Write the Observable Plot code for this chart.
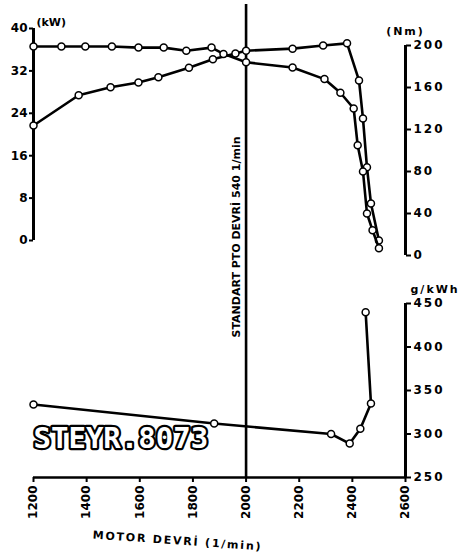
<!DOCTYPE html>
<html><head><meta charset="utf-8">
<script src="https://cdn.jsdelivr.net/npm/d3@7"></script>
<script src="https://cdn.jsdelivr.net/npm/@observablehq/plot@0.6"></script>
<style>
html,body{margin:0;padding:0;background:#fff;}
#chart{position:relative;width:459px;height:557px;overflow:hidden;background:#fff;}
#chart svg{position:absolute;left:0;top:0;}
</style></head><body><div id="chart"></div>
<script>
// ---- data ----
const rpmTicks = [1200, 1400, 1600, 1800, 2000, 2200, 2400, 2600];
const powerTicks = [0, 8, 16, 24, 32, 40];
const torqueTicks = [0, 40, 80, 120, 160, 200];
const fuelTicks = [250, 300, 350, 400, 450];

const powerRpm = [1200, 1370, 1490, 1595, 1670, 1785, 1875, 1960, 2000, 2175, 2290, 2380, 2425, 2440, 2455, 2470, 2500];
const powerKw  = [21.7, 27.4, 28.9, 29.8, 30.8, 32.6, 34.2, 35.3, 35.8, 36.2, 36.8, 37.2, 30.2, 23.0, 13.8, 7.0, 0];

const torqueRpm = [1200, 1305, 1395, 1495, 1595, 1690, 1775, 1870, 1915, 2000, 2175, 2295, 2355, 2405, 2420, 2440, 2455, 2476, 2500];
const torqueNm  = [199, 199, 199, 199, 198, 198, 195, 198, 192, 184, 179, 168, 155, 140, 105, 80, 40, 24, 7];

const fuelRpm  = [1200, 1880, 2320, 2390, 2430, 2470, 2450];
const fuelGkwh = [334, 312, 300, 289, 306, 335, 440];

const ptoRpm = 2000;
const ptoLabel = "STANDART PTO DEVRİ 540 1/min";
const modelLabel = "STEYR.8073";
const xLabel = "MOTOR DEVRİ (1/min)";
const powerUnit = "(kW)";
const torqueUnit = "(Nm)";
const fuelUnit = "g/kWh";

// ---- layout ----
const W = 459, H = 557, ML = 33, MR = 54;
const font = {fontFamily: "DejaVu Sans", fontWeight: "bold", fontSize: "12px"};
const lw = 2.6;
const dotOpt = {r: 3.5, fill: "white", stroke: "black", strokeWidth: 1.5};

const powerData = powerRpm.map((rpm, i) => ({rpm, v: powerKw[i]}));
const torqueData = torqueRpm.map((rpm, i) => ({rpm, v: torqueNm[i]}));
const fuelData = fuelRpm.map((rpm, i) => ({rpm, v: fuelGkwh[i]}));

const chart = document.getElementById("chart");

// base layer: x axis, PTO line, labels
const base = Plot.plot({
  width: W, height: H, marginLeft: ML, marginRight: MR, marginTop: 4, marginBottom: 80,
  x: {domain: [1200, 2600]},
  y: {domain: [0, 1], axis: null},
  style: {...font, background: "white", overflow: "visible"},
  marks: [
    Plot.ruleY([0], {strokeWidth: lw}),
    Plot.axisX({ticks: rpmTicks, tickFormat: "d", tickRotate: -90, tickSize: 5, tickPadding: 3, strokeWidth: 2, label: null, fontSize: 12}),
    Plot.ruleX([ptoRpm], {strokeWidth: lw}),
    Plot.text([ptoLabel], {x: () => ptoRpm, frameAnchor: "middle", rotate: -90, dx: -10, dy: -4, fontSize: 11}),
    Plot.text([modelLabel], {frameAnchor: "bottom-left", textAnchor: "start", dy: -30, fontSize: 29,
      fontFamily: "DejaVu Sans Mono", fontWeight: "bold", fill: "white", stroke: "black", strokeWidth: 4.5, paintOrder: "stroke"}),
    Plot.text([xLabel], {frameAnchor: "bottom-left", textAnchor: "start", dx: 59, dy: 61, rotate: 4, fontSize: 11})
  ]
});
d3.select(base).selectAll("text").filter(function() { return this.textContent === xLabel; }).style("letter-spacing", "1.8px");
chart.appendChild(base);

// power layer (left axis)
const power = Plot.plot({
  width: W, height: H, marginLeft: ML, marginRight: MR, marginTop: 28, marginBottom: 317,
  x: {domain: [1200, 2600], axis: null},
  y: {domain: [0, 40]},
  style: {...font, background: "none", overflow: "visible"},
  marks: [
    Plot.ruleX([1200], {strokeWidth: 3}),
    Plot.axisY({ticks: powerTicks, tickSize: 4, tickPadding: 2, strokeWidth: 2, label: null, fontSize: 12}),
    Plot.text([powerUnit], {frameAnchor: "top-left", textAnchor: "start", dx: 3, dy: -10, fontSize: 11}),
    Plot.line(powerData, {x: "rpm", y: "v", strokeWidth: lw}),
    Plot.dot(powerData, {x: "rpm", y: "v", ...dotOpt})
  ]
});
chart.appendChild(power);

// torque layer (right axis, top)
const torque = Plot.plot({
  width: W, height: H, marginLeft: ML, marginRight: MR, marginTop: 45, marginBottom: 302,
  x: {domain: [1200, 2600], axis: null},
  y: {domain: [0, 200]},
  style: {...font, background: "none", overflow: "visible", letterSpacing: "2px"},
  marks: [
    Plot.ruleX([2600], {strokeWidth: 3}),
    Plot.axisY({anchor: "right", ticks: torqueTicks, tickSize: 5, tickPadding: 3, strokeWidth: 2, label: null, fontSize: 12}),
    Plot.text([torqueUnit], {frameAnchor: "top-right", textAnchor: "middle", dy: -18, fontSize: 11}),
    Plot.line(torqueData, {x: "rpm", y: "v", strokeWidth: lw}),
    Plot.dot(torqueData, {x: "rpm", y: "v", ...dotOpt})
  ]
});
chart.appendChild(torque);

// fuel consumption layer (right axis, bottom)
const fuel = Plot.plot({
  width: W, height: H, marginLeft: ML, marginRight: MR, marginTop: 303, marginBottom: 80,
  x: {domain: [1200, 2600], axis: null},
  y: {domain: [250, 450]},
  style: {...font, background: "none", overflow: "visible", letterSpacing: "2px"},
  marks: [
    Plot.ruleX([2600], {strokeWidth: 3}),
    Plot.axisY({anchor: "right", ticks: fuelTicks, tickSize: 5, tickPadding: 3, strokeWidth: 2, label: null, fontSize: 12}),
    Plot.text([fuelUnit], {frameAnchor: "top-right", textAnchor: "start", dx: 5, dy: -18, fontSize: 11}),
    Plot.line(fuelData, {x: "rpm", y: "v", strokeWidth: lw}),
    Plot.dot(fuelData, {x: "rpm", y: "v", ...dotOpt})
  ]
});
chart.appendChild(fuel);
</script></body></html>
